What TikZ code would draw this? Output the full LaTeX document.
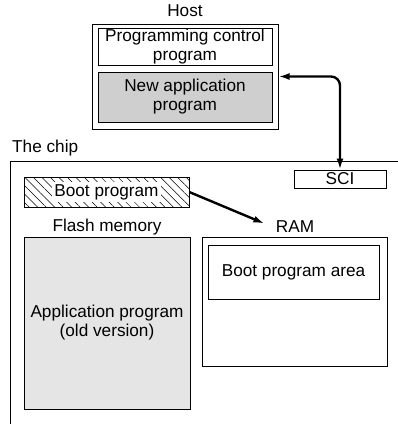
\documentclass[tikz,border=0pt]{standalone}
\usepackage{fontspec}
\setmainfont{Liberation Sans}
\usetikzlibrary{arrows.meta,patterns.meta}

\begin{document}
\begin{tikzpicture}[x=1pt,y=-1pt,
  font=\fontsize{17.2pt}{19pt}\selectfont,
  box/.style={draw, line width=0.8pt, inner sep=0pt, align=center},
  tag/.style={inner sep=3pt},
  link/.style={line width=2.4pt, -{Latex[length=11pt,width=7pt]}}]
\useasboundingbox (0,0) rectangle (398,424);
% host side
\node[tag] (hostname) at (185,11) {Host};
\node[box, line width=1pt, minimum width=186pt, minimum height=105pt] (host) at (185,76.5) {};
\node[box, minimum width=174pt, minimum height=37pt] (ctrl) at (185,46.5) {Programming control\\program};
\node[box, fill=black!19, minimum width=174pt, minimum height=50pt] (newapp) at (185,97) {New application\\program};
% the chip
\coordinate (chip) at (10,161);
\draw[line width=1pt] (10,424) -- (chip) -- (398,161);
\node[tag, anchor=west] (chipname) at (9,148) {The chip};
\node[box, minimum width=92pt, minimum height=18pt] (sci) at (340,179) {SCI};
\node[box, pattern={Lines[angle=-45,distance=6pt,line width=0.5pt]}, minimum width=165pt, minimum height=30pt] (boot) at (106.5,192) {};
\node[fill=white, inner sep=2.5pt] (boottext) at (boot) {Boot program};
\node[tag] (flashname) at (107,227) {Flash memory};
\node[box, fill=black!10, minimum width=166pt, minimum height=172pt] (flash) at (107,323) {Application program\\(old version)};
\node[tag] (ramname) at (295,227) {RAM};
\node[box, minimum width=185pt, minimum height=129pt] (ram) at (294.5,301.5) {};
\node[box, minimum width=171pt, minimum height=54pt] (bootarea) at (293.5,272) {Boot program area};
% transfers
\draw[link, {Latex[length=11pt,width=7pt]}-{Latex[length=11pt,width=7pt]}, rounded corners=9pt] (sci.north) |- (host.east);
\draw[link, shorten >=9pt] (boot.east) -- (ramname.west);
\end{tikzpicture}
\end{document}
